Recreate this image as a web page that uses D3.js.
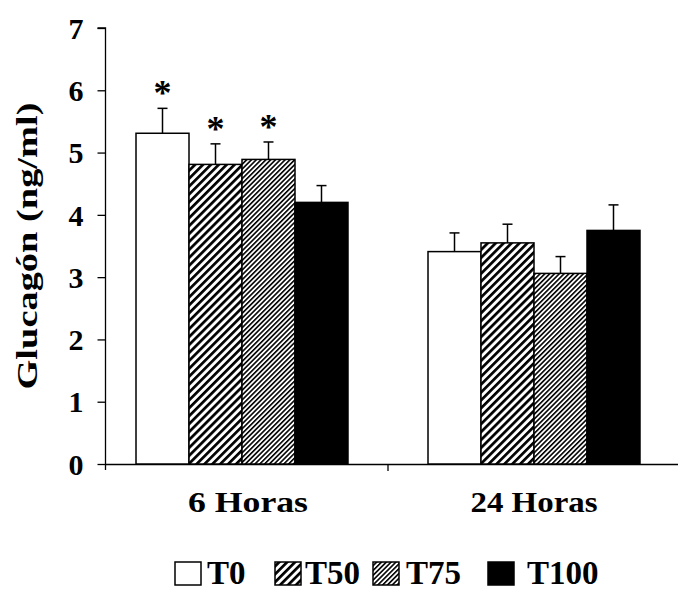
<!DOCTYPE html>
<html><head><meta charset="utf-8">
<script src="https://cdn.jsdelivr.net/npm/d3@7"></script>
<style>body{margin:0;background:#fff}svg{display:block}</style>
</head><body>
<svg id="c" width="678" height="590"></svg>
<script>
const categories = ["6 Horas", "24 Horas"];
const seriesNames = ["T0", "T50", "T75", "T100"];
const values6h = [5.31, 4.81, 4.89, 4.20];
const values24h = [3.41, 3.55, 3.06, 3.75];
const errors6h = [0.40, 0.33, 0.28, 0.27];
const errors24h = [0.30, 0.30, 0.27, 0.41];
const significant6h = [true, true, true, false];
const significant24h = [false, false, false, false];
const yTicks = [0, 1, 2, 3, 4, 5, 6, 7];

const FONT = "'Liberation Serif', monospace";
const svg = d3.select("#c");
const defs = svg.append("defs");
function stripe(id, period, w) {
  const p = defs.append("pattern").attr("id", id).attr("patternUnits", "userSpaceOnUse")
    .attr("width", period).attr("height", period).attr("patternTransform", "rotate(45)");
  p.append("rect").attr("width", period).attr("height", period).attr("fill", "#fff");
  p.append("rect").attr("width", w).attr("height", period).attr("fill", "#000");
}
stripe("p50", 5.6, 2.7);
stripe("p75", 3.4, 1.6);
const fills = ["#fff", "url(#p50)", "url(#p75)", "#000"];

const y = d3.scaleLinear().domain([0, 7]).range([464, 28]);
const x0 = d3.scaleBand().domain(categories).range([96, 680]).paddingInner(0.274).paddingOuter(0.137);
const x1 = d3.scaleBand().domain(seriesNames).range([0, x0.bandwidth()]);

const data = categories.map((c, ci) => ({
  cat: c,
  vals: seriesNames.map((s, si) => ({
    s, si,
    v: ci === 0 ? values6h[si] : values24h[si],
    e: ci === 0 ? errors6h[si] : errors24h[si],
    sig: ci === 0 ? significant6h[si] : significant24h[si]
  }))
}));

// axes
const yAxis = svg.append("g").attr("transform", "translate(105.5,0)")
  .call(d3.axisLeft(y).tickValues(yTicks).tickSize(8).tickPadding(14).tickFormat(d3.format("d")));
yAxis.attr("font-family", null).attr("font-size", null);
yAxis.select(".domain").attr("d", "M-8," + y(7) + "H0V" + (y(0) + 6)).attr("stroke-width", 1.3);
yAxis.selectAll("line").attr("stroke-width", 1.3);
yAxis.selectAll("text").attr("dy", "0.34em").attr("font-size", 30);

const xg = svg.append("g");
xg.append("line").attr("x1", 105).attr("x2", 678).attr("y1", y(0) + 0.5).attr("y2", y(0) + 0.5).attr("stroke", "#000").attr("stroke-width", 1.3);
const sepX = x0(categories[1]) - x0.step() * x0.paddingInner() / 2;
xg.append("line").attr("x1", sepX).attr("x2", sepX).attr("y1", y(0)).attr("y2", y(0) + 7).attr("stroke", "#000").attr("stroke-width", 1.3);

const labelCenters = [248, 534];
categories.forEach((c, i) => {
  svg.append("text").attr("x", labelCenters[i]).attr("y", 512).attr("text-anchor", "middle")
    .attr("font-size", 30).attr("textLength", i === 0 ? 120 : 127).attr("lengthAdjust", "spacingAndGlyphs").text(c);
});

// bars
const groups = svg.selectAll("g.grp").data(data).join("g").attr("class", "grp")
  .attr("transform", d => "translate(" + x0(d.cat) + ",0)");
groups.selectAll("rect").data(d => d.vals).join("rect")
  .attr("x", d => x1(d.s)).attr("width", x1.bandwidth())
  .attr("y", d => y(d.v)).attr("height", d => y(0) - y(d.v))
  .attr("fill", d => fills[d.si]).attr("stroke", "#000").attr("stroke-width", 1.5);
groups.selectAll("line.eb").data(d => d.vals).join("line").attr("class", "eb")
  .attr("x1", d => x1(d.s) + x1.bandwidth() / 2).attr("x2", d => x1(d.s) + x1.bandwidth() / 2)
  .attr("y1", d => y(d.v)).attr("y2", d => y(d.v + d.e)).attr("stroke", "#000").attr("stroke-width", 1.5);
groups.selectAll("line.cap").data(d => d.vals).join("line").attr("class", "cap")
  .attr("x1", d => x1(d.s) + x1.bandwidth() / 2 - 5).attr("x2", d => x1(d.s) + x1.bandwidth() / 2 + 5)
  .attr("y1", d => y(d.v + d.e)).attr("y2", d => y(d.v + d.e)).attr("stroke", "#000").attr("stroke-width", 1.5);
groups.selectAll("text.ast").data(d => d.vals.filter(v => v.sig)).join("text").attr("class", "ast")
  .attr("x", d => x1(d.s) + x1.bandwidth() / 2).attr("y", d => y(d.v + d.e) - 3)
  .attr("text-anchor", "middle").attr("font-size", 36).text("*");

// y title
svg.append("text").attr("transform", "translate(37,246) rotate(-90)").attr("text-anchor", "middle")
  .attr("font-size", 30).attr("textLength", 287).attr("lengthAdjust", "spacingAndGlyphs").text("Glucagón (ng/ml)");

// legend
const legBoxX = [175, 275, 373, 488];
const legTextX = [207, 305, 406, 527];
seriesNames.forEach((s, i) => {
  svg.append("rect").attr("x", legBoxX[i]).attr("y", 562).attr("width", 26).attr("height", 23)
    .attr("fill", fills[i]).attr("stroke", "#000").attr("stroke-width", 1.5);
  svg.append("text").attr("x", legTextX[i]).attr("y", 584).attr("font-size", 33).text(s);
});

svg.selectAll("text").attr("font-family", FONT).attr("font-weight", "bold").attr("fill", "#000");
</script>
</body></html>
